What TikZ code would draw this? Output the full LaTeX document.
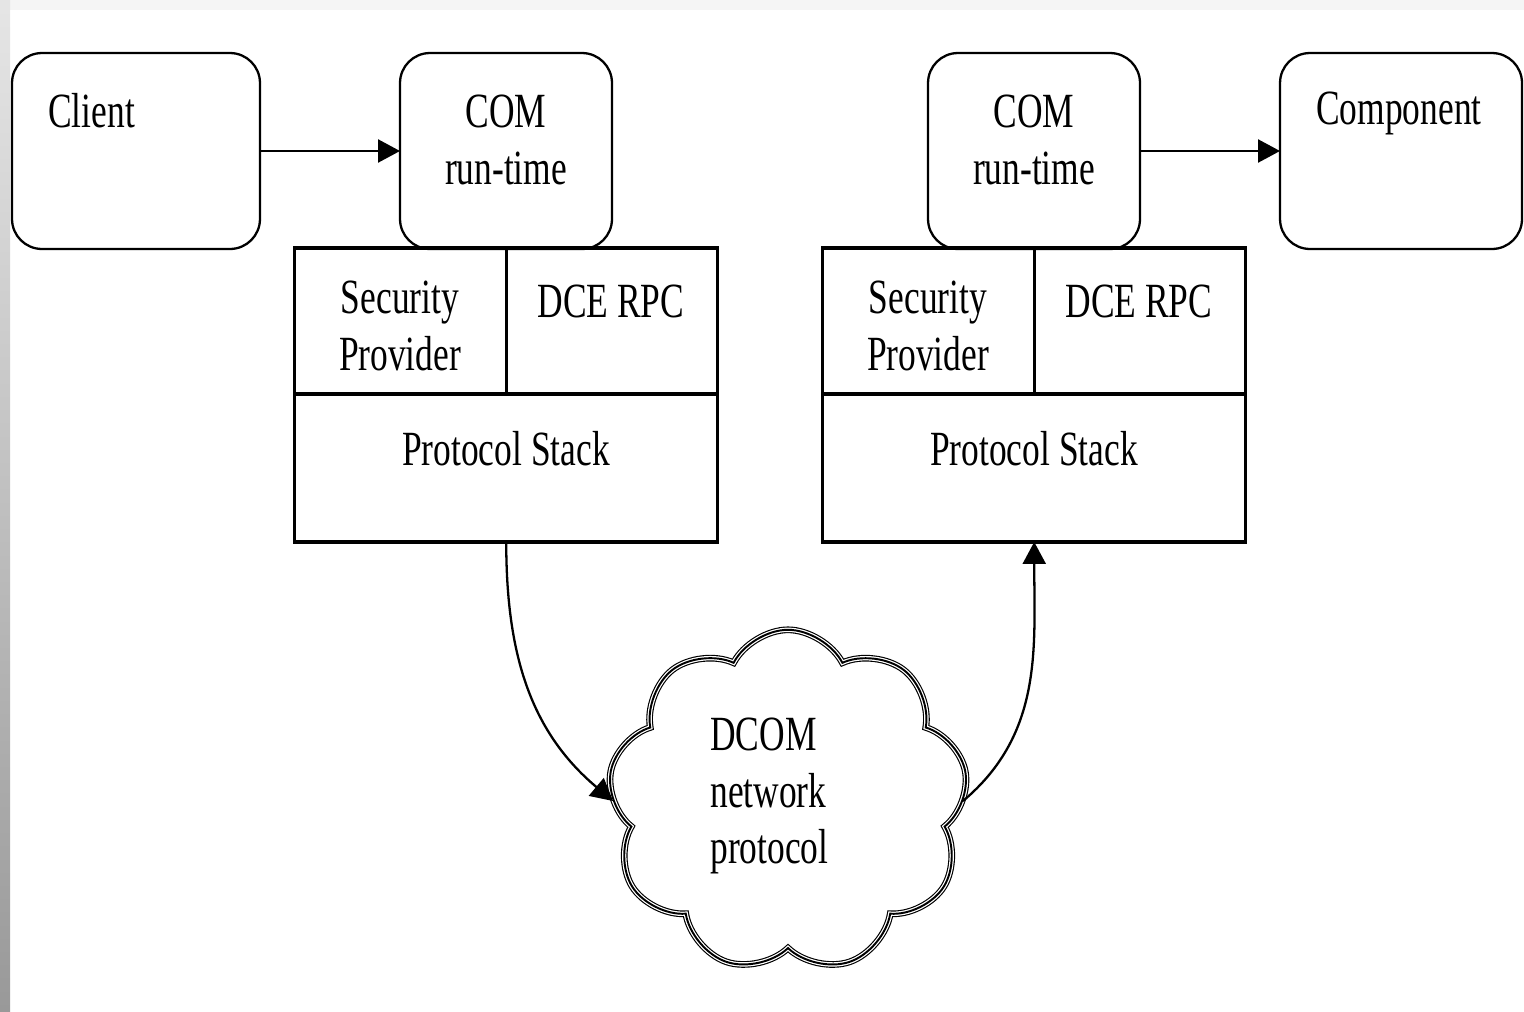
\documentclass[tikz,border=0pt]{standalone}
\usepackage{fontspec}
\setmainfont[FakeStretch=0.72]{Liberation Serif}
\usetikzlibrary{positioning, shapes.symbols, arrows.meta}

\begin{document}
\begin{tikzpicture}[x=0.02cm, y=-0.02cm,
    rbox/.style={draw, rounded corners=0.6cm, line width=1.3pt, fill=white, minimum height=3.92cm, outer sep=0pt},
    cell/.style={draw, line width=1.8pt, minimum width=4.23cm, minimum height=2.92cm, outer sep=0pt},
    stackbox/.style={draw, line width=1.8pt, minimum width=8.46cm, minimum height=2.96cm, outer sep=0pt},
    lbl/.style={font=\fontsize{28}{32}\selectfont, align=center, inner sep=0pt},
    arr/.style={-{Triangle[length=0.44cm, width=0.46cm]}, line width=1.3pt},
    netcloud/.style={cloud, cloud puffs=9, cloud puff arc=125, cloud ignores aspect,
        minimum width=7.2cm, minimum height=6.85cm, outer sep=0pt,
        preaction={draw, line width=3.8pt}, preaction={draw=white, line width=2.5pt},
        draw, line width=1.1pt}
]
    \useasboundingbox (0,0) rectangle (1524,1011);

    % Rahmen
    \fill[gray!8] (0,0) rectangle (1524,10);
    \shade[top color=gray!20, bottom color=gray!80] (0,0) rectangle (10,1011);

    % 1. Client und Component
    \node[rbox, minimum width=4.96cm] (client) at (136,151) {};
    \node[lbl, anchor=west] (clientlbl) at (48,111) {Client};
    \node[rbox, minimum width=4.84cm] (comp) at (1401,151) {};
    \node[lbl, anchor=west] (complbl) at (1316,113) {Component};

    % 2. COM run-time (links und rechts)
    \node[rbox, minimum width=4.24cm] (comL) at (506,151) {};
    \node[lbl] (comLlbl) at (506,140) {COM\\run-time};
    \node[rbox, minimum width=4.24cm] (comR) at (1034,151) {};
    \node[lbl] (comRlbl) at (1034,140) {COM\\run-time};

    % 3. Protokollstapel links
    \node[cell] (secL) at (400.5,321) {};
    \node[cell, right=0pt of secL] (rpcL) {};
    \node[stackbox, anchor=north west] (psL) at (secL.south west) {};
    \node[lbl] at (400,326) {Security\\Provider};
    \node[lbl] at (611,301) {DCE RPC};
    \node[lbl] at (506,449) {Protocol Stack};

    % Protokollstapel rechts
    \node[cell] (secR) at (928.5,321) {};
    \node[cell, right=0pt of secR] (rpcR) {};
    \node[stackbox, anchor=north west] (psR) at (secR.south west) {};
    \node[lbl] at (928,326) {Security\\Provider};
    \node[lbl] at (1139,301) {DCE RPC};
    \node[lbl] at (1034,449) {Protocol Stack};

    % 4. Netzwerk-Wolke
    \node[netcloud] (net) at (788,801) {};
    \node[lbl, align=left, anchor=west] (netlbl) at (710,796) {DCOM\\network\\protocol};

    % 5. Pfeile
    \draw[arr] (client.east) -- (comL.west);
    \draw[arr] (comR.east) -- (comp.west);
    \draw[arr] (psL.south) to[out=-90, in=140] (net.west);
    \draw[arr] (net.east) to[out=40, in=-90] (psR.south);

\end{tikzpicture}
\end{document}
